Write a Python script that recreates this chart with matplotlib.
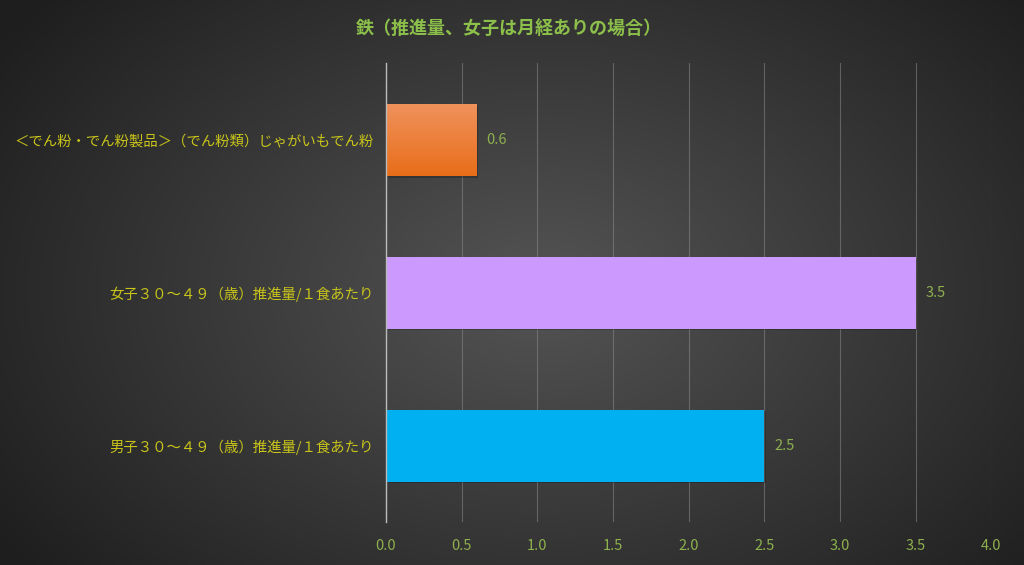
import numpy as np
import matplotlib
matplotlib.use('Agg')
import matplotlib.pyplot as plt
from matplotlib.patches import Rectangle

plt.rcParams['font.family'] = ['Noto Sans CJK JP', 'DejaVu Sans']

title = '鉄（推進量、女子は月経ありの場合）'
categories = ['男子３０～４９（歳）推進量/１食あたり',
              '女子３０～４９（歳）推進量/１食あたり',
              '＜でん粉・でん粉製品＞（でん粉類）じゃがいもでん粉']
values = [2.5, 3.5, 0.6]
bar_colors = ['#00B0F0', '#CC99FF', '#EE7A2C']
xticks = [0.0, 0.5, 1.0, 1.5, 2.0, 2.5, 3.0, 3.5, 4.0]

fig = plt.figure(figsize=(10.24, 5.65), dpi=100)

# radial gradient background
bg = fig.add_axes([0, 0, 1, 1], zorder=-10)
yy, xx = np.mgrid[0:565, 0:1024]
r = np.sqrt(((xx - 540) / 620.0) ** 2 + ((yy - 290) / 420.0) ** 2)
shade = np.clip(0.33 - 0.20 * r, 0.12, 0.33)
bg.imshow(np.dstack([shade] * 3), aspect='auto', extent=[0, 1, 0, 1], interpolation='bilinear')
bg.axis('off')

ax = fig.add_axes([0.377, 0.076, 0.591, 0.812])
ax.set_facecolor('none')
ax.set_xlim(0, 4.0)
ax.set_ylim(-0.5, 2.5)

ypos = np.arange(len(categories))
h = 0.47
for y, v, c in zip(ypos, values, bar_colors):
    # soft drop shadow
    ax.add_patch(Rectangle((0.01, y - h / 2 - 0.012), v, h, color='black', alpha=0.22, zorder=2, lw=0))
    bar = ax.barh(y, v, height=h, color=c, zorder=3, lw=0)[0]
    if c == '#EE7A2C':
        grad = np.linspace(0, 1, 100).reshape(-1, 1)
        top = np.array([0.94, 0.57, 0.36])
        bot = np.array([0.91, 0.43, 0.10])
        img = top + (bot - top) * grad[:, :, None]
        im = ax.imshow(img, extent=[0, v, y - h / 2, y + h / 2], aspect='auto', zorder=4,
                       origin='upper')
        im.set_clip_path(bar)
    ax.text(v + 0.065, y, f'{v:.1f}', color='#8FB04E', fontsize=10.5, va='center', ha='left')

ax.set_xticks(xticks)
ax.set_xticklabels([f'{t:.1f}' for t in xticks], color='#8FB04E', fontsize=10.5)
ax.set_yticks(ypos)
ax.set_yticklabels(categories, color='#C8C41A', fontsize=10.4)
ax.tick_params(axis='both', length=0)
ax.tick_params(axis='x', pad=12)
ax.tick_params(axis='y', pad=9)
ax.xaxis.grid(True, color='#8A8A8A', lw=0.8, alpha=0.55)
ax.set_axisbelow(True)
for s in ['top', 'right', 'bottom']:
    ax.spines[s].set_visible(False)
ax.spines['left'].set_color('#BBBBBB')
ax.spines['left'].set_linewidth(1.0)
ax.spines['left'].set_zorder(5)

fig.text(0.497, 0.950, title, color='#8CC04A', fontsize=13, fontweight='bold',
         ha='center', va='center')

fig.savefig('out.png', dpi=100)
